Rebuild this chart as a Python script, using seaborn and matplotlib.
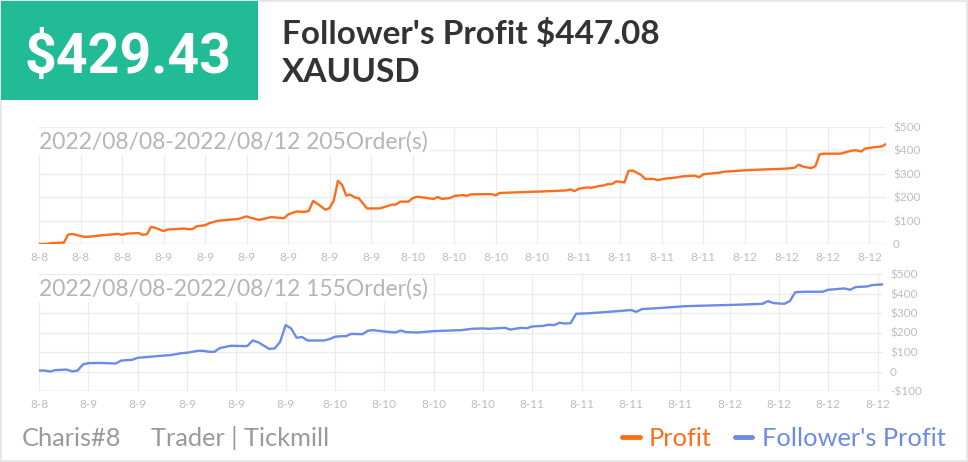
import numpy as np
import pandas as pd
import matplotlib.pyplot as plt
import seaborn as sns
from matplotlib.lines import Line2D
from matplotlib.patches import Rectangle

# profit curve (order index, value)
profit_idx = [0, 2, 3, 6, 7, 8, 11, 13, 15, 19, 20, 21, 24, 25, 26, 27, 28, 30, 31, 33,
              35, 36, 37, 38, 40, 41, 43, 46, 48, 50, 51, 53, 56, 59, 60, 62, 64, 65, 66, 67,
              69, 70, 71, 72, 73, 74, 75, 76, 77, 79, 82, 83, 85, 86, 87, 89, 90, 91, 93, 95,
              96, 97, 99, 100, 102, 103, 104, 107, 109, 110, 111, 114, 122, 127, 128, 129, 130, 132, 133, 135,
              136, 137, 138, 139, 141, 142, 143, 145, 146, 148, 149, 151, 153, 155, 158, 159, 160, 164, 165, 171,
              180, 182, 183, 184, 186, 187, 188, 189, 193, 194, 196, 197, 198, 199, 201, 203, 204]
profit_val = [0, 1, 4, 6, 40, 43, 30, 33, 37, 43, 39, 44, 47, 39, 42, 73, 69, 55, 62, 64,
              66, 63, 64, 76, 80, 89, 99, 104, 107, 118, 112, 103, 115, 110, 126, 139, 137, 142, 184, 173,
              146, 154, 186, 270, 253, 207, 211, 199, 196, 152, 152, 157, 168, 169, 181, 181, 196, 202, 198, 192,
              201, 193, 196, 205, 209, 206, 212, 213, 213, 208, 218, 220, 225, 229, 233, 226, 236, 242, 240, 248,
              250, 256, 256, 268, 263, 313, 314, 295, 278, 278, 273, 280, 283, 289, 292, 285, 298, 305, 309, 316,
              322, 326, 339, 331, 324, 333, 383, 386, 386, 391, 400, 400, 395, 408, 413, 417, 427]

# follower's profit curve
follow_idx = [0, 1, 2, 3, 5, 6, 7, 8, 9, 11, 12, 14, 15, 17, 18, 20, 22, 24, 26, 27,
              29, 30, 31, 32, 33, 35, 38, 39, 40, 42, 43, 44, 45, 46, 47, 48, 49, 52, 53, 54,
              55, 56, 57, 59, 60, 61, 63, 65, 66, 67, 69, 72, 77, 79, 81, 82, 85, 86, 88, 89,
              90, 92, 93, 94, 95, 96, 97, 98, 100, 103, 108, 109, 110, 113, 118, 123, 127, 132, 133, 134,
              136, 137, 138, 140, 143, 144, 147, 148, 149, 151, 152, 154]
follow_val = [5, 5, 0, 7, 10, 1, 4, 36, 43, 44, 43, 41, 56, 60, 70, 75, 80, 84, 94, 96,
              106, 106, 101, 101, 120, 132, 130, 159, 150, 116, 118, 152, 238, 221, 173, 177, 159, 159, 166, 178,
              181, 181, 193, 191, 209, 212, 205, 200, 210, 202, 200, 207, 212, 219, 221, 219, 224, 215, 224, 222,
              231, 234, 240, 238, 250, 246, 248, 296, 298, 304, 315, 306, 320, 325, 335, 339, 342, 347, 361, 351,
              347, 361, 407, 409, 409, 419, 426, 419, 433, 436, 443, 447]

top_ticks = list(range(0, 201, 10))
top_labels = ["8-8", "8-8", "8-8", "8-9", "8-9", "8-9", "8-9", "8-9", "8-9", "8-10", "8-10",
              "8-10", "8-10", "8-11", "8-11", "8-11", "8-11", "8-12", "8-12", "8-12", "8-12"]
bot_ticks = list(range(0, 154, 9))
bot_labels = ["8-8", "8-9", "8-9", "8-9", "8-9", "8-9", "8-10", "8-10", "8-10", "8-10",
              "8-11", "8-11", "8-11", "8-11", "8-12", "8-12", "8-12", "8-12"]
top_y = [0, 100, 200, 300, 400, 500]
bot_y = [-100, 0, 100, 200, 300, 400, 500]

ORANGE = "#ff6d1a"
BLUE = "#6b8be6"
GREEN = "#21bc95"
LIGHT = "#bdbdbd"

sns.set_style("white")
plt.rcParams['font.family'] = ['Lato', 'DejaVu Sans']

W, H = 968, 462
fig = plt.figure(figsize=(W / 100, H / 100), dpi=100)


def box(l, t, r, b):
    return [l / W, 1 - b / H, (r - l) / W, (b - t) / H]


def money(v):
    if v == 0:
        return "0"
    return ("-$%d" % -v) if v < 0 else ("$%d" % v)


def setup(ax, xt, xl, yt, xmax, note):
    ax.set_xlim(0, xmax)
    ax.set_ylim(yt[0], yt[-1])
    ax.set_xticks(xt)
    ax.set_xticklabels(xl)
    ax.set_yticks(yt)
    ax.set_yticklabels([money(v) for v in yt])
    ax.yaxis.tick_right()
    ax.tick_params(length=0, labelsize=8.5, labelcolor=LIGHT, pad=5)
    ax.tick_params(axis='x', pad=6)
    ax.grid(True, color="#ececec", linewidth=1)
    for s in ax.spines.values():
        s.set_visible(False)
    ax.axhline(yt[0], color="#e0e0e0", linewidth=1, zorder=1)
    ax.set_xlabel("")
    ax.set_ylabel("")
    ax.text(0, 0.87, note, transform=ax.transAxes, fontsize=16.5, color="#b5b5b5",
            va='center', ha='left',
            bbox=dict(facecolor='white', edgecolor='none', pad=1.5), zorder=5)


ax1 = fig.add_axes(box(39, 127, 886, 244))
df1 = pd.DataFrame({"order": profit_idx, "profit": profit_val})
sns.lineplot(data=df1, x="order", y="profit", ax=ax1, color=ORANGE, linewidth=1.7)
setup(ax1, top_ticks, top_labels, top_y, 204, "2022/08/08-2022/08/12 205Order(s)")

ax2 = fig.add_axes(box(39, 274, 883, 391))
df2 = pd.DataFrame({"order": follow_idx, "profit": follow_val})
sns.lineplot(data=df2, x="order", y="profit", ax=ax2, color=BLUE, linewidth=1.7)
setup(ax2, bot_ticks, bot_labels, bot_y, 154, "2022/08/08-2022/08/12 155Order(s)")

# card border and header
fig.add_artist(Rectangle((0.5 / W, 1.5 / H), (W - 2) / W, (H - 2.5) / H, transform=fig.transFigure,
                         facecolor='none', edgecolor="#e3e3e3", linewidth=1.2))
fig.add_artist(Rectangle((1 / W, 1 - 100 / H), 257 / W, 99 / H, transform=fig.transFigure,
                         facecolor=GREEN, edgecolor='none'))
fig.text(128 / W, 1 - 58 / H, "$429.43", color="white", fontsize=40, fontweight='bold',
         family=['Roboto', 'DejaVu Sans'], ha='center', va='center')
fig.text(282 / W, 1 - 34 / H, "Follower's Profit $447.08", color="#333333", fontsize=24,
         fontweight='bold', ha='left', va='center')
fig.text(282 / W, 1 - 73 / H, "XAUUSD", color="#333333", fontsize=24,
         fontweight='bold', ha='left', va='center')

# footer
FS = 18.3
fig.text(22 / W, 1 - 438 / H, "Charis#8", color="#9a9a9a", fontsize=FS,
         ha='left', va='center')
fig.text(151 / W, 1 - 438 / H, "Trader | Tickmill", color="#9a9a9a", fontsize=FS,
         ha='left', va='center')
fig.add_artist(Line2D([622 / W, 640 / W], [1 - 437 / H, 1 - 437 / H], color=ORANGE, linewidth=3.5,
                      solid_capstyle='round', transform=fig.transFigure))
fig.text(649 / W, 1 - 438 / H, "Profit", color=ORANGE, fontsize=FS,
         ha='left', va='center')
fig.add_artist(Line2D([735 / W, 752 / W], [1 - 437 / H, 1 - 437 / H], color=BLUE, linewidth=3.5,
                      solid_capstyle='round', transform=fig.transFigure))
fig.text(762 / W, 1 - 438 / H, "Follower's Profit", color=BLUE, fontsize=FS,
         ha='left', va='center')

fig.savefig("out.png", dpi=100, facecolor='white')
